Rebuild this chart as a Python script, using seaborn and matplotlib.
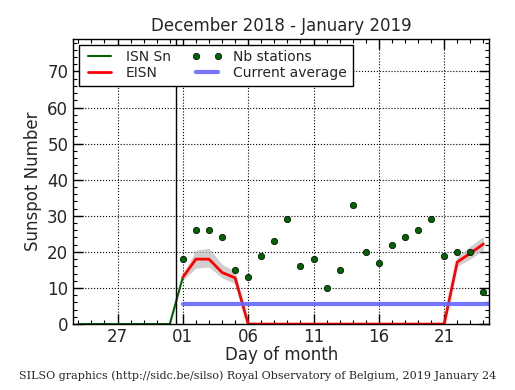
import numpy as np
import pandas as pd
import matplotlib
matplotlib.use('Agg')
import matplotlib.pyplot as plt
from matplotlib.ticker import MultipleLocator
import seaborn as sns

### Data (x = days relative to 2019-01-01, i.e. 0 -> Jan 01)
isn_days = [-8, -7, -6, -5, -4, -3, -2, -1, 0]
isn_values = [0, 0, 0, 0, 0, 0, 0, 0, 13]

eisn_days = list(range(0, 24))
eisn_values = [13, 18, 18, 14.3, 12.8, 0, 0, 0, 0, 0, 0, 0, 0, 0, 0, 0,
               0, 0, 0, 0, 0, 17.2, 19.6, 22.2]
eisn_low = [12.2, 15.5, 15.8, 12.8, 11.2, 0, 0, 0, 0, 0, 0, 0, 0, 0, 0, 0,
            0, 0, 0, 0, 0, 16.0, 18.0, 20.6]
eisn_high = [13.8, 20.5, 21.0, 16.6, 14.6, 0, 0, 0, 0, 0, 0, 0, 0, 0, 0, 0,
             0, 0, 0, 0, 0, 18.6, 21.6, 24.3]

stations = [18, 26, 26, 24, 15, 13, 19, 23, 29, 16, 18, 10, 15, 33, 20, 17,
            22, 24, 26, 29, 19, 20, 20, 9]

avg_days = [0, 23.5]
avg_values = [5.7, 5.7]

tick_pos = [-5, 0, 5, 10, 15, 20]
tick_labels = ['27', '01', '06', '11', '16', '21']

isn = pd.DataFrame({'day': isn_days, 'value': isn_values})
eisn = pd.DataFrame({'day': eisn_days, 'value': eisn_values,
                     'low': eisn_low, 'high': eisn_high})
nb = pd.DataFrame({'day': eisn_days, 'stations': stations})
avg = pd.DataFrame({'day': avg_days, 'value': avg_values})

### Plot
sns.set_style('ticks')
plt.rcParams['font.family'] = ['DejaVu Sans']

fig = plt.figure(figsize=(5.15, 3.9), dpi=100)
ax = fig.add_axes([0.142, 0.169, 0.808, 0.731])

ax.fill_between(eisn['day'], eisn['low'], eisn['high'], color='#bbbbbb', alpha=0.7, lw=0)
sns.lineplot(data=isn, x='day', y='value', ax=ax, color='#006400', lw=1.5, label='ISN Sn')
sns.lineplot(data=eisn, x='day', y='value', ax=ax, color='red', lw=2, label='EISN')
ax.plot(nb['day'], nb['stations'], ls='None', marker='o', ms=4.6, mfc='#006400',
        mec='black', mew=0.5, label='Nb stations')
sns.lineplot(data=avg, x='day', y='value', ax=ax, color='#6666ff', lw=3, alpha=0.9,
             label='Current average')
ax.axvline(-0.5, color='black', lw=1)

ax.set_xlim(-8.4, 23.45)
ax.set_ylim(0, 79)
ax.set_xticks(tick_pos)
ax.set_xticklabels(tick_labels)
ax.xaxis.set_minor_locator(MultipleLocator(1))
ax.yaxis.set_major_locator(MultipleLocator(10))
ax.yaxis.set_minor_locator(MultipleLocator(2))
ax.tick_params(which='both', direction='in', top=True, right=True, labelsize=12, color='black')
ax.tick_params(which='major', length=7, width=1)
ax.tick_params(which='minor', length=3, width=0.8)
ax.tick_params(axis='x', pad=3)
ax.grid(True, which='major', color='black', ls=':', lw=0.8)
for s in ax.spines.values():
    s.set_color('black')
    s.set_linewidth(1)

ax.set_title('December 2018 - January 2019', fontsize=12)
ax.set_xlabel('Day of month', fontsize=12, labelpad=0)
ax.set_ylabel('Sunspot Number', fontsize=12)

# legend: ISN/EISN in the first column, stations/average in the second
h, l = ax.get_legend_handles_labels()
idx = [l.index(n) for n in ['ISN Sn', 'EISN', 'Nb stations', 'Current average']]
leg = ax.legend([h[i] for i in idx], [l[i] for i in idx],
                loc='upper left', ncol=2, fontsize=10, numpoints=2, frameon=True,
                fancybox=False, framealpha=1, borderaxespad=0.4,
                handlelength=2.2, columnspacing=1.5, handletextpad=0.8,
                labelspacing=0.15)
leg.get_frame().set_edgecolor('black')
leg.get_frame().set_linewidth(1)

fig.text(0.5, 0.028, 'SILSO graphics (http://sidc.be/silso) Royal Observatory of Belgium, 2019 January 24',
         ha='center', fontsize=8, family='DejaVu Serif')

fig.savefig('out.png', dpi=100, facecolor='white')
